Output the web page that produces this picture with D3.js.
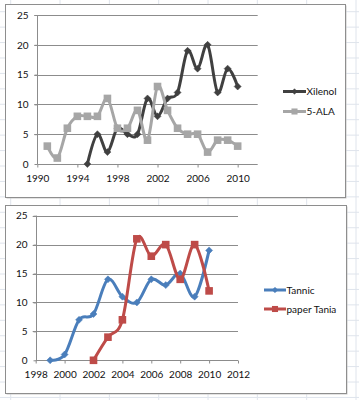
<!DOCTYPE html>
<html><head><meta charset="utf-8">
<script src="https://cdn.jsdelivr.net/npm/d3@7"></script>
<style>html,body{margin:0;padding:0;background:#fff;}svg{display:block;font-family:Lato,"Open Sans",sans-serif;}</style>
</head><body>
<svg id="c" width="359" height="400"></svg>
<script>
// Chart 1 data
const years1Xilenol = [1995,1996,1997,1998,1999,2000,2001,2002,2003,2004,2005,2006,2007,2008,2009,2010];
const xilenol       = [0,5,2,6,5,5,11,8,11,12,19,16,20,12,16,13];
const years1Ala     = [1991,1992,1993,1994,1995,1996,1997,1998,1999,2000,2001,2002,2003,2004,2005,2006,2007,2008,2009,2010];
const ala5          = [3,1,6,8,8,8,11,6,6,9,4,13,9,6,5,5,2,4,4,3];
const xTicks1 = [1990,1994,1998,2002,2006,2010];
const yTicks = [0,5,10,15,20,25];
// Chart 2 data
const years2Tannic = [1999,2000,2001,2002,2003,2004,2005,2006,2007,2008,2009,2010];
const tannic       = [0,1,7,8,14,11,10,14,13,15,11,19];
const years2Tania  = [2002,2003,2004,2005,2006,2007,2008,2009,2010];
const paperTania   = [0,4,7,21,18,20,14,20,12];
const xTicks2 = [1998,2000,2002,2004,2006,2008,2010,2012];
const seriesNames1 = ["Xilenol","5-ALA"];
const seriesNames2 = ["Tannic","paper Tania"];

const svg = d3.select("#c");
// spreadsheet grid background
const bg = svg.append("g");
for (let k=0;k<8;k++){ const x=10.7+49.33*k; bg.append("line").attr("x1",x).attr("x2",x).attr("y1",0).attr("y2",400).attr("stroke","#dfe4ec").attr("stroke-width",1);}
for (let k=0;k<27;k++){ const y=11.7+15.43*k; bg.append("line").attr("x1",0).attr("x2",359).attr("y1",y).attr("y2",y).attr("stroke","#dfe4ec").attr("stroke-width",1);}

function frame(x0,y0,x1,y1){
  svg.append("rect").attr("x",x0+1.5).attr("y",y0+1.5).attr("width",x1-x0).attr("height",y1-y0).attr("fill","#c8c8c8");
  svg.append("rect").attr("x",x0+0.5).attr("y",y0+0.5).attr("width",x1-x0).attr("height",y1-y0).attr("fill","#fff").attr("stroke","#8e8e8e").attr("stroke-width",1);
}

function diamond(g,x,y,color,s){
  g.append("path").attr("d",`M${x},${y-s}L${x+s},${y}L${x},${y+s}L${x-s},${y}Z`).attr("fill",color).attr("stroke",color).attr("stroke-width",0.5);
}
function square(g,x,y,color,s){
  g.append("rect").attr("x",x-s).attr("y",y-s).attr("width",2*s).attr("height",2*s).attr("fill",color);
}

function chart(cfg){
  frame(cfg.frame[0],cfg.frame[1],cfg.frame[2],cfg.frame[3]);
  const x = d3.scaleLinear().domain(cfg.xDomain).range([cfg.left,cfg.right]);
  const y = d3.scaleLinear().domain([0,25]).range([cfg.bottom,cfg.top]);
  const g = svg.append("g");
  g.selectAll(".gl").data(yTicks.filter(d=>d>0)).join("line")
    .attr("x1",cfg.left-3).attr("x2",cfg.right).attr("y1",d=>Math.round(y(d))+0.5).attr("y2",d=>Math.round(y(d))+0.5)
    .attr("stroke","#8c8c8c").attr("stroke-width",1);
  const ya = g.append("g").attr("transform",`translate(${Math.round(cfg.left)+0.5},0)`)
    .call(d3.axisLeft(y).tickValues(yTicks).tickSize(3).tickPadding(6));
  const xa = g.append("g").attr("transform",`translate(0,${Math.round(cfg.bottom)+0.5})`)
    .call(d3.axisBottom(x).tickValues(cfg.xTicks).tickFormat(d3.format("d")).tickSize(3).tickPadding(7));
  [ya,xa].forEach(a=>{
    a.select(".domain").attr("stroke","#8c8c8c").attr("d", a===ya ? `M0,${y(0)}V${y(25)}` : `M${cfg.left},0H${cfg.right}`);
    a.selectAll(".tick line").attr("stroke","#8c8c8c");
    a.selectAll(".tick text").attr("fill","#111").attr("font-size","10px").attr("font-family","Lato,'Open Sans',sans-serif");
  });
  const line = d3.line().x(d=>x(d[0])).y(d=>y(d[1])).curve(d3.curveCardinal.tension(0));
  cfg.series.forEach(s=>{
    const pts = s.years.map((yr,i)=>[yr,s.values[i]]);
    g.append("path").attr("d",line(pts)).attr("fill","none").attr("stroke",s.color).attr("stroke-width",3).attr("stroke-linejoin","round");
    pts.forEach(p=>{ s.marker==="d" ? diamond(g,x(p[0]),y(p[1]),s.color,s.ms) : square(g,x(p[0]),y(p[1]),s.color,s.ms); });
    const ly = s.ly;
    g.append("line").attr("x1",cfg.legX).attr("x2",cfg.legX+cfg.legW).attr("y1",ly).attr("y2",ly).attr("stroke",s.color).attr("stroke-width",3);
    s.marker==="d" ? diamond(g,cfg.legX+cfg.legW/2,ly,s.color,s.ms*0.8) : square(g,cfg.legX+cfg.legW/2,ly,s.color,s.ms*0.8);
    g.append("text").attr("x",cfg.legX+cfg.legW+0.5).attr("y",ly).attr("dy","0.35em").attr("font-size","10px").attr("fill","#111").text(s.name);
  });
}

chart({frame:[5,4,345,197], xDomain:[1990,2012], left:37.3, right:257.7, top:15, bottom:164, xTicks:xTicks1,
  legX:283, legW:23,
  series:[
    {name:seriesNames1[0], years:years1Xilenol, values:xilenol, color:"#404040", marker:"d", ms:3.5, ly:91.5},
    {name:seriesNames1[1], years:years1Ala, values:ala5, color:"#a6a6a6", marker:"s", ms:3.8, ly:111.5}
  ]});
chart({frame:[5,205,346,393], xDomain:[1998,2012], left:35.7, right:238, top:215.7, bottom:360.3, xTicks:xTicks2,
  legX:264, legW:22,
  series:[
    {name:seriesNames2[0], years:years2Tannic, values:tannic, color:"#4a7ebb", marker:"d", ms:3.5, ly:290},
    {name:seriesNames2[1], years:years2Tania, values:paperTania, color:"#be4b48", marker:"s", ms:3.8, ly:309}
  ]});
</script>
</body></html>
